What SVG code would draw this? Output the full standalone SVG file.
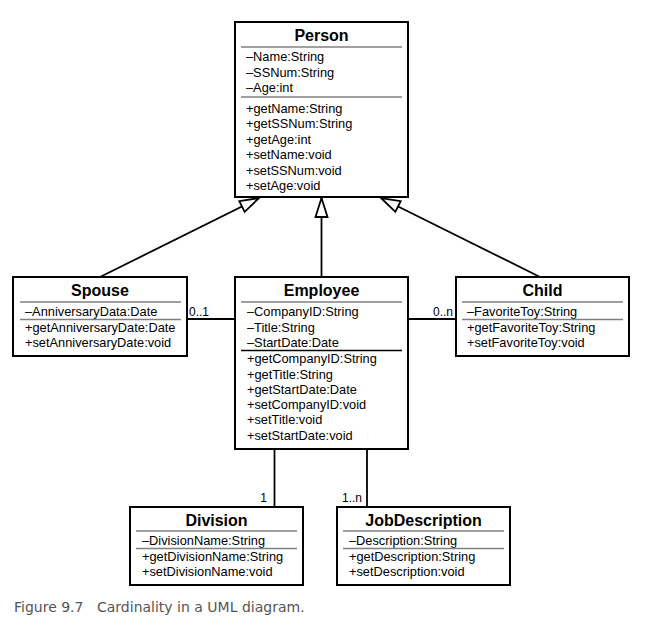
<svg xmlns="http://www.w3.org/2000/svg" width="646" height="625" viewBox="0 0 646 625">
<style>
.box{fill:#fff;stroke:#000;stroke-width:2}
.sep{stroke:#808080;stroke-width:1.4}
.sepk{stroke:#000;stroke-width:1.3}
.ttl{font-family:"Liberation Sans",Arial,sans-serif;font-weight:bold;font-size:16px;text-anchor:middle;fill:#000}
.t{font-family:"Liberation Sans",Arial,sans-serif;font-size:12.8px;fill:#000}
.lbl{font-family:"Liberation Sans",Arial,sans-serif;font-size:12px;fill:#000}
.conn{stroke:#000;stroke-width:1.8;fill:none}
.cap{font-family:"DejaVu Sans",Verdana,sans-serif;font-size:14px;fill:#555}
</style>
<defs>
<marker id="gen" markerUnits="userSpaceOnUse" markerWidth="24" markerHeight="16" viewBox="-21 -8 24 16" refX="0" refY="0" orient="auto">
<path d="M0,0 L-19,-6 L-19,6 Z" fill="#fff" stroke="#000" stroke-width="1.8" stroke-linejoin="miter"/>
</marker>
</defs>
<rect width="646" height="625" fill="#fff"/>
<g id="connectors">
<line class="conn" x1="100" y1="277" x2="259" y2="198" marker-end="url(#gen)"/>
<line class="conn" x1="321.5" y1="277" x2="321.5" y2="198" marker-end="url(#gen)"/>
<line class="conn" x1="540" y1="277" x2="381" y2="198" marker-end="url(#gen)"/>
<line class="conn" x1="187" y1="319" x2="235" y2="319"/>
<line class="conn" x1="408" y1="319" x2="456" y2="319"/>
<line class="conn" x1="274.5" y1="449" x2="274.5" y2="507"/>
<line class="conn" x1="367" y1="449" x2="367" y2="507"/>
<text class="lbl" x="189" y="316">0..1</text>
<text class="lbl" x="453" y="316" text-anchor="end">0..n</text>
<text class="lbl" x="267" y="502" text-anchor="end">1</text>
<text class="lbl" x="362" y="502" text-anchor="end">1..n</text>
</g>
<g id="person">
<rect class="box" x="235" y="22" width="173" height="175"/>
<text class="ttl" x="321.5" y="41">Person</text>
<line class="sep" x1="241" y1="47" x2="402" y2="47"/>
<text class="t" x="246" y="61">–Name:String</text>
<text class="t" x="246" y="76.5">–SSNum:String</text>
<text class="t" x="246" y="92">–Age:int</text>
<line class="sep" x1="241" y1="97" x2="402" y2="97"/>
<text class="t" x="246" y="112.5">+getName:String</text>
<text class="t" x="246" y="128">+getSSNum:String</text>
<text class="t" x="246" y="143.5">+getAge:int</text>
<text class="t" x="246" y="159">+setName:void</text>
<text class="t" x="246" y="174.5">+setSSNum:void</text>
<text class="t" x="246" y="190">+setAge:void</text>
</g>
<g id="spouse">
<rect class="box" x="13" y="277" width="174" height="79"/>
<text class="ttl" x="100" y="295.5">Spouse</text>
<line class="sep" x1="20" y1="302" x2="181" y2="302"/>
<text class="t" x="25" y="316">–AnniversaryData:Date</text>
<line class="sep" x1="20" y1="319.5" x2="181" y2="319.5"/>
<text class="t" x="25" y="331.5">+getAnniversaryDate:Date</text>
<text class="t" x="25" y="346.5">+setAnniversaryDate:void</text>
</g>
<g id="employee">
<rect class="box" x="235" y="277" width="173" height="172"/>
<text class="ttl" x="321.5" y="295.5">Employee</text>
<line class="sep" x1="241" y1="302" x2="402" y2="302"/>
<text class="t" x="247" y="316">–CompanyID:String</text>
<text class="t" x="247" y="331.5">–Title:String</text>
<text class="t" x="247" y="347">–StartDate:Date</text>
<line class="sepk" x1="241" y1="350.5" x2="402" y2="350.5"/>
<text class="t" x="247" y="363">+getCompanyID:String</text>
<text class="t" x="247" y="378.5">+getTitle:String</text>
<text class="t" x="247" y="393.5">+getStartDate:Date</text>
<text class="t" x="247" y="409">+setCompanyID:void</text>
<text class="t" x="247" y="424">+setTitle:void</text>
<text class="t" x="247" y="439.5">+setStartDate:void</text>
</g>
<g id="child">
<rect class="box" x="456" y="277" width="173" height="79"/>
<text class="ttl" x="542.5" y="295.5">Child</text>
<line class="sep" x1="462" y1="302" x2="623" y2="302"/>
<text class="t" x="467" y="316">–FavoriteToy:String</text>
<line class="sep" x1="462" y1="319.5" x2="623" y2="319.5"/>
<text class="t" x="467" y="331.5">+getFavoriteToy:String</text>
<text class="t" x="467" y="346.5">+setFavoriteToy:void</text>
</g>
<g id="division">
<rect class="box" x="130" y="507" width="173" height="78"/>
<text class="ttl" x="216.5" y="525.5">Division</text>
<line class="sep" x1="136" y1="531" x2="297" y2="531"/>
<text class="t" x="142" y="545">–DivisionName:String</text>
<line class="sep" x1="136" y1="548.5" x2="297" y2="548.5"/>
<text class="t" x="142" y="561">+getDivisionName:String</text>
<text class="t" x="142" y="576">+setDivisionName:void</text>
</g>
<g id="jobdescription">
<rect class="box" x="337" y="507" width="173" height="78"/>
<text class="ttl" x="423.5" y="525.5">JobDescription</text>
<line class="sep" x1="343" y1="531" x2="504" y2="531"/>
<text class="t" x="349" y="545">–Description:String</text>
<line class="sep" x1="343" y1="548.5" x2="504" y2="548.5"/>
<text class="t" x="349" y="561">+getDescription:String</text>
<text class="t" x="349" y="576">+setDescription:void</text>
</g>
<text class="cap" x="14" y="612">Figure 9.7<tspan x="97">Cardinality in a UML diagram.</tspan></text>
</svg>
